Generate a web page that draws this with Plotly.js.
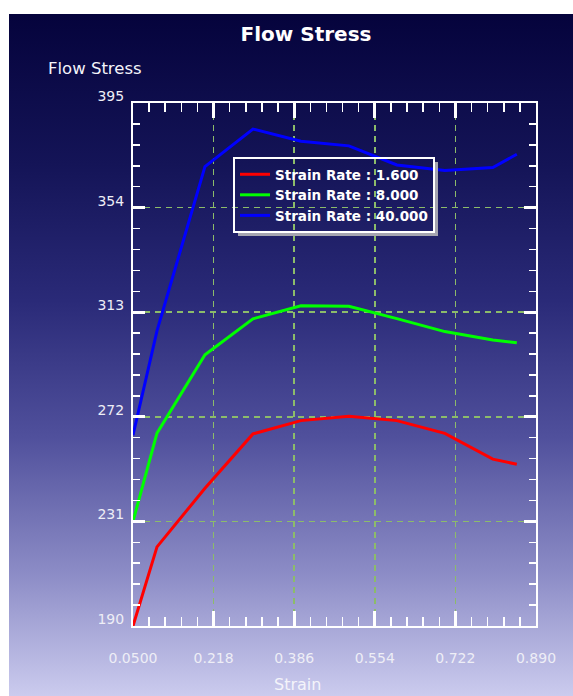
<!DOCTYPE html>
<html>
<head>
<meta charset="utf-8">
<script src="https://cdn.plot.ly/plotly-3.0.1.min.js"></script>
<style>
  html, body { margin: 0; padding: 0; background: #ffffff; }
  #wrap { position: relative; width: 573px; height: 696px; background: #ffffff; overflow: hidden; }
  #bg { position: absolute; left: 9px; top: 14px; width: 564px; height: 682px;
        background: linear-gradient(to bottom, #05033c 0%, #141457 22%, #2a2a78 42%, #50509c 62%, #8c8cc6 82%, #cbcbee 100%); }
  #chart { position: absolute; left: 0; top: 0; width: 573px; height: 696px; }
</style>
</head>
<body>
<div id="wrap">
  <div id="bg"></div>
  <div id="chart"></div>
</div>
<script>
// Data
const strain = [0.05, 0.1, 0.2, 0.3, 0.4, 0.5, 0.6, 0.7, 0.8, 0.85];
const rate1600 = [190, 221, 244, 265.3, 270.5, 272.2, 270.5, 265.5, 255.4, 253.4];
const rate8000 = [231, 265.6, 296.3, 310.4, 315.5, 315.3, 310.5, 305.4, 302.1, 301.0];
const rate40000 = [264.8, 305.7, 370.1, 384.8, 380.0, 378.2, 370.7, 368.5, 369.7, 374.9];
const seriesNames = ['Strain Rate : 1.600', 'Strain Rate : 8.000', 'Strain Rate : 40.000'];
const seriesColors = ['#ff0000', '#00ff00', '#0000ff'];

const xTickVals = [0.05, 0.218, 0.386, 0.554, 0.722, 0.89];
const xTickText = ['0.0500', '0.218', '0.386', '0.554', '0.722', '0.890'];
const yTickVals = [190, 231, 272, 313, 354, 395];
const yTickText = ['190', '231', '272', '313', '354', '395'];

const ys = [rate1600, rate8000, rate40000];
const traces = ys.map((y, i) => ({
  type: 'scatter', mode: 'lines', x: strain, y: y, name: seriesNames[i],
  line: { color: seriesColors[i], width: 3 }
}));

const tickFont = { family: 'DejaVu Sans', size: 14, color: '#eeeef6' };
const gridColor = '#8cbc6a';

const layout = {
  width: 573, height: 696,
  margin: { l: 133, r: 37, t: 103, b: 70, pad: 0 },
  paper_bgcolor: 'rgba(0,0,0,0)',
  plot_bgcolor: 'rgba(0,0,0,0)',
  title: { text: 'Flow Stress', font: { family: 'DejaVu Sans', size: 20, weight: 'bold', color: '#ffffff' },
           xref: 'container', yref: 'container', x: 306 / 573, y: 1 - 34 / 696, xanchor: 'center', yanchor: 'middle' },
  showlegend: true,
  legend: { x: (233 - 133) / 403, y: (626 - 157) / 523, xanchor: 'left', yanchor: 'top',
            bgcolor: 'rgba(0,0,0,0)', bordercolor: '#ffffff', borderwidth: 2,
            font: { family: 'DejaVu Sans', size: 13.5, weight: 'bold', color: '#ffffff' },
            tracegroupgap: 0 },
  xaxis: {
    range: [0.05, 0.89], tickmode: 'array', tickvals: xTickVals, ticktext: xTickText,
    tickfont: tickFont, ticks: 'inside', ticklen: 15, tickwidth: 3, tickcolor: '#ffffff',
    ticklabelstandoff: 18,
    showline: true, linecolor: '#ffffff', linewidth: 2, mirror: 'allticks',
    showgrid: true, gridcolor: gridColor, gridwidth: 1.5, griddash: '6px,5px',
    zeroline: false,
    minor: { ticks: 'inside', ticklen: 9, tickwidth: 1.5, tickcolor: '#ffffff', tick0: 0.05, dtick: 0.0336, showgrid: false }
  },
  yaxis: {
    range: [190, 395], tickmode: 'array', tickvals: yTickVals, ticktext: yTickText,
    tickfont: tickFont, ticks: 'inside', ticklen: 12, tickwidth: 3, tickcolor: '#ffffff',
    ticklabelstandoff: 4, ticklabelshift: -7,
    showline: true, linecolor: '#ffffff', linewidth: 2, mirror: 'allticks',
    showgrid: true, gridcolor: gridColor, gridwidth: 1.5, griddash: '6px,5px',
    zeroline: false,
    minor: { ticks: 'inside', ticklen: 7, tickwidth: 1.5, tickcolor: '#ffffff', tick0: 190, dtick: 8.2, showgrid: false }
  },
  annotations: [
    { text: 'Flow Stress', xref: 'paper', yref: 'paper', x: (46 - 133) / 403, y: (626 - 69) / 523,
      xanchor: 'left', yanchor: 'middle', showarrow: false,
      font: { family: 'DejaVu Sans', size: 16.5, color: '#f4f4fa' } },
    { text: 'Strain', xref: 'paper', yref: 'paper', x: (297 - 133) / 403, y: (626 - 684) / 523,
      xanchor: 'center', yanchor: 'middle', showarrow: false,
      font: { family: 'DejaVu Sans', size: 16, color: '#f4f4fa' } }
  ]
};

Plotly.newPlot('chart', traces, layout, { displayModeBar: false, staticPlot: true }).then(gd => {
  // add a drop shadow at the right and bottom of the legend box
  const bg = gd.querySelector('.legend .bg');
  if (!bg) return;
  const r = bg.getBoundingClientRect();
  const c = gd.getBoundingClientRect();
  const s = gd._fullLayout._size;
  const px = v => (v - c.left - s.l) / s.w;
  const py = v => (s.t + s.h - (v - c.top)) / s.h;
  const right = r.right + 2.5, bottom = r.bottom + 2.5;
  Plotly.relayout(gd, { shapes: [
    { type: 'line', xref: 'paper', yref: 'paper', x0: px(right), x1: px(right),
      y0: py(r.top + 4), y1: py(bottom + 1.5), line: { color: '#a4a4b0', width: 3 } },
    { type: 'line', xref: 'paper', yref: 'paper', x0: px(r.left + 4), x1: px(right + 1.5),
      y0: py(bottom), y1: py(bottom), line: { color: '#a4a4b0', width: 3 } }
  ]});
});
</script>
</body>
</html>
